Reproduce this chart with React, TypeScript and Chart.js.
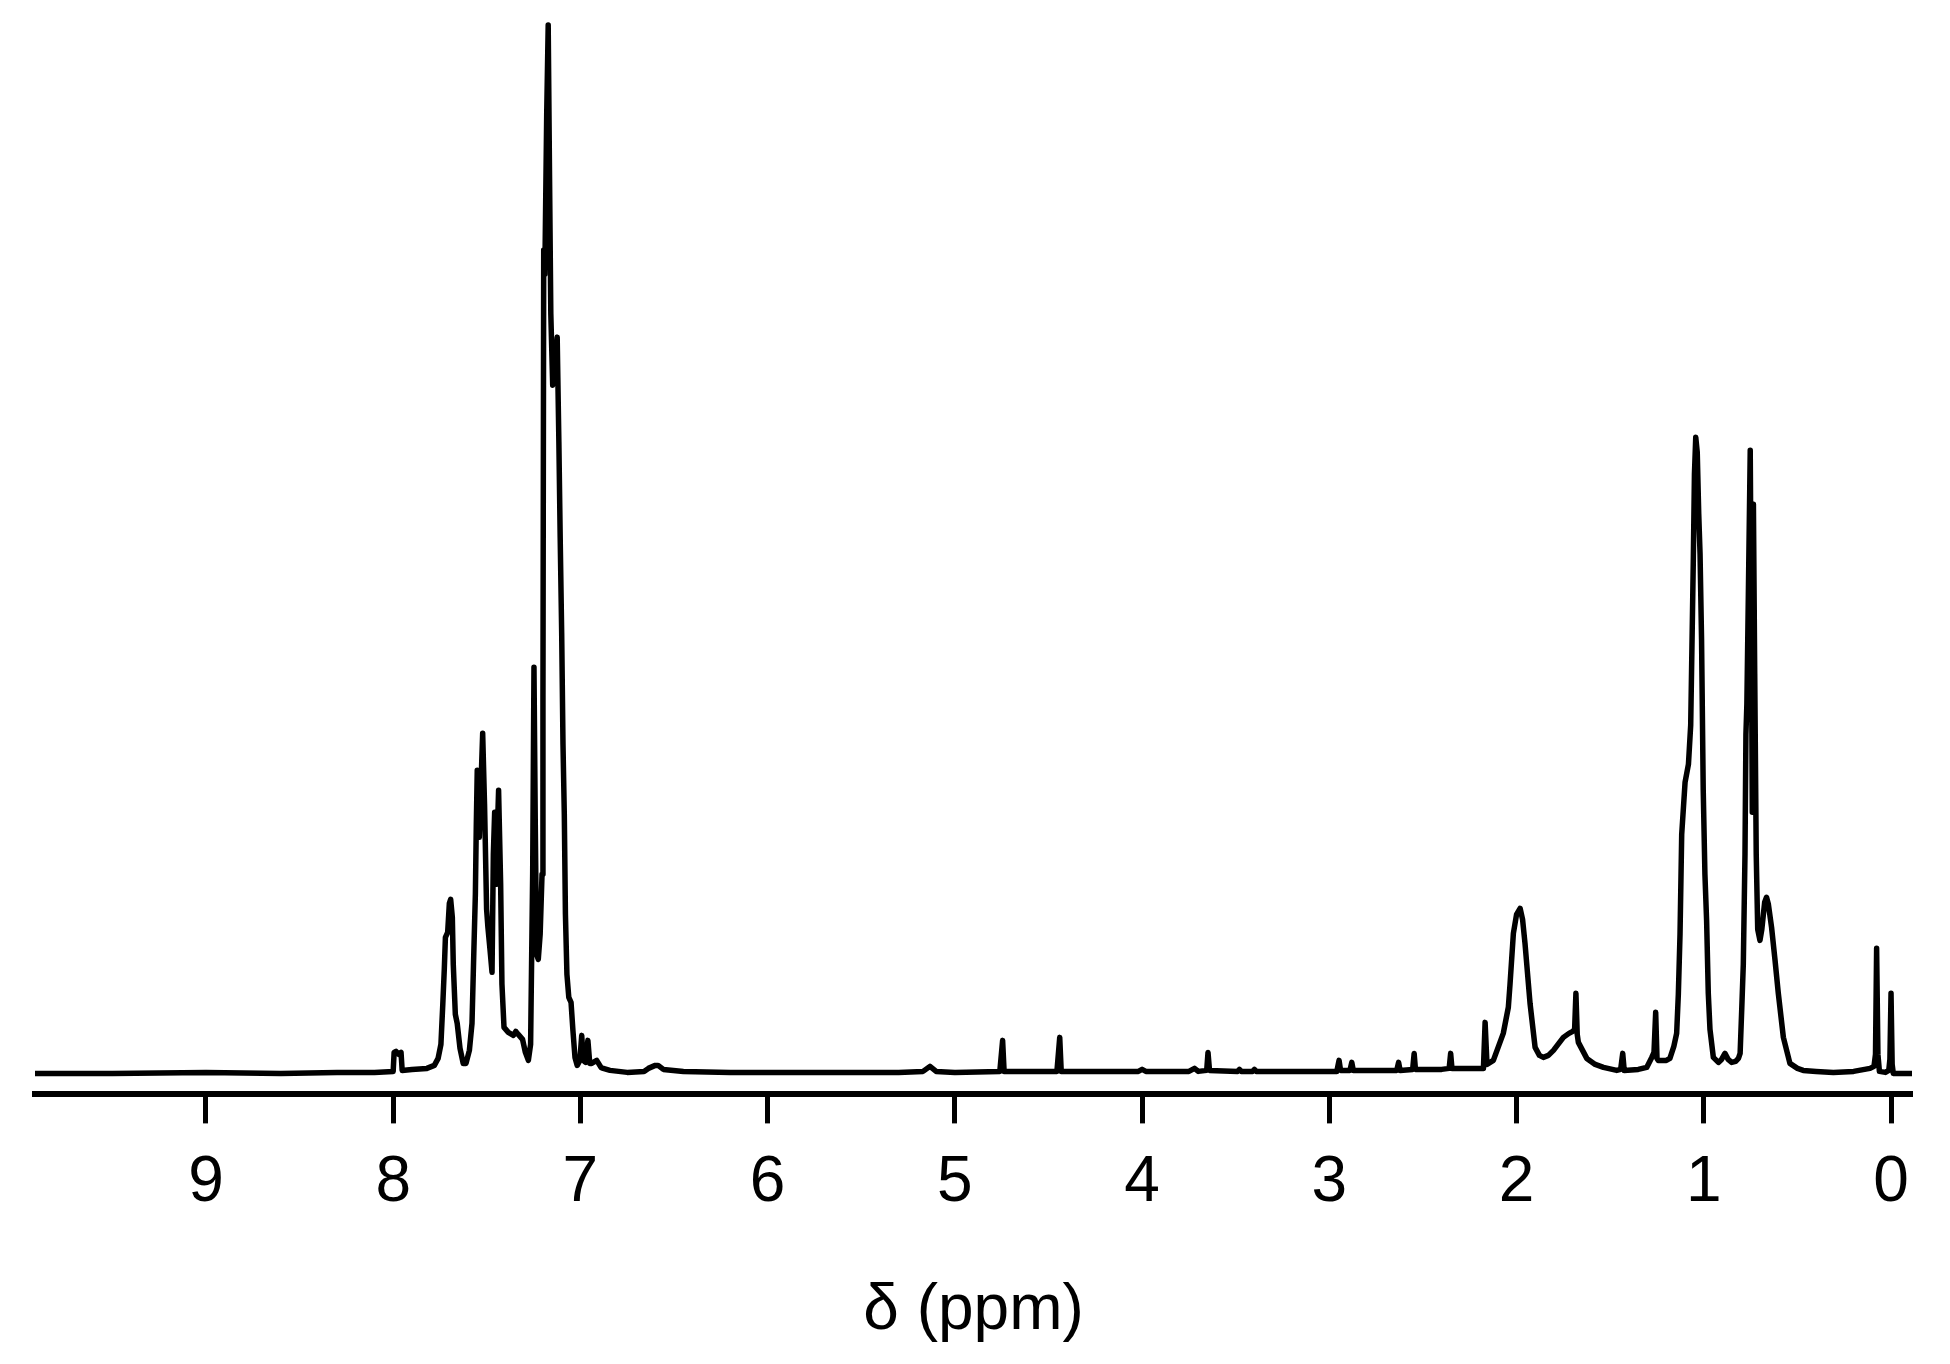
import React, { useEffect, useRef } from "react";
import { Chart, registerables } from "chart.js";

Chart.register(...registerables);

// Chemical shift (ppm), high to low
const ppmValues: number[] = [
  9.913, 9.5, 9.0, 8.6, 8.3, 8.1, 8.0, 7.995, 7.985, 7.97, 7.958, 7.952, 7.9, 7.82, 7.78, 7.76, 7.745, 7.735,
  7.727, 7.721, 7.709, 7.7, 7.693, 7.684, 7.679, 7.668, 7.658, 7.643, 7.626, 7.611, 7.593, 7.579, 7.569,
  7.561, 7.556, 7.551, 7.546, 7.54, 7.531, 7.522, 7.512, 7.501, 7.494, 7.483, 7.472, 7.465, 7.458, 7.451,
  7.444, 7.437, 7.426, 7.419, 7.408, 7.385, 7.358, 7.345, 7.332, 7.309, 7.294, 7.278, 7.266, 7.255, 7.248,
  7.241, 7.234, 7.225, 7.215, 7.205, 7.2, 7.196, 7.19, 7.18, 7.172, 7.165, 7.158, 7.148, 7.138, 7.124,
  7.115, 7.108, 7.1, 7.093, 7.086, 7.08, 7.072, 7.062, 7.05, 7.04, 7.029, 7.017, 7.003, 6.993, 6.985,
  6.972, 6.96, 6.95, 6.94, 6.913, 6.89, 6.878, 6.842, 6.75, 6.66, 6.637, 6.6, 6.585, 6.557, 6.45, 6.2,
  5.9, 5.6, 5.3, 5.17, 5.133, 5.1, 5.0, 4.76, 4.745, 4.737, 4.6, 4.455, 4.44, 4.432, 4.2, 4.02, 4.0,
  3.98, 3.75, 3.72, 3.7, 3.655, 3.648, 3.64, 3.49, 3.48, 3.47, 3.41, 3.4, 3.39, 3.2, 2.96, 2.948, 2.94,
  2.89, 2.88, 2.872, 2.7, 2.64, 2.63, 2.622, 2.555, 2.547, 2.54, 2.4, 2.36, 2.352, 2.345, 2.25, 2.177,
  2.168, 2.158, 2.124, 2.071, 2.044, 2.035, 2.017, 2.0, 1.981, 1.968, 1.955, 1.928, 1.901, 1.878, 1.857,
  1.83, 1.803, 1.75, 1.72, 1.7, 1.69, 1.683, 1.676, 1.67, 1.625, 1.58, 1.536, 1.465, 1.444, 1.433, 1.425,
  1.35, 1.305, 1.278, 1.266, 1.257, 1.25, 1.243, 1.2, 1.181, 1.16, 1.145, 1.136, 1.127, 1.118, 1.1,
  1.082, 1.07, 1.063, 1.056, 1.05, 1.043, 1.035, 1.027, 1.02, 1.012, 1.003, 0.994, 0.985, 0.976, 0.967,
  0.949, 0.922, 0.905, 0.887, 0.87, 0.851, 0.83, 0.815, 0.806, 0.797, 0.789, 0.78, 0.775, 0.77, 0.762,
  0.752, 0.746, 0.741, 0.735, 0.728, 0.72, 0.712, 0.7, 0.69, 0.675, 0.665, 0.655, 0.638, 0.62, 0.602,
  0.575, 0.54, 0.5, 0.469, 0.4, 0.308, 0.2, 0.112, 0.091, 0.083, 0.077, 0.07, 0.062, 0.03, 0.012, 0.006,
  0.0, -0.006, -0.012, -0.05, -0.112,
];

// Signal intensity (arbitrary units), one per ppm value above
const intensities: number[] = [
  1, 1, 2, 1, 2, 2, 3, 22, 23, 20, 22, 4, 5, 6, 9, 16, 30, 70,
  105, 137, 142, 171, 175, 157, 110, 60, 51, 26, 11, 11, 24, 51, 124,
  180, 250, 304, 270, 237, 290, 341, 270, 165, 147, 125, 102, 220, 262, 190,
  240, 284, 190, 90, 47, 42, 39, 43, 40, 35, 22, 14, 30, 200, 407,
  250, 120, 115, 140, 200, 380, 824, 800, 960, 1049, 900, 760, 689, 700, 737,
  632, 537, 441, 330, 260, 160, 100, 77, 72, 44, 17, 9, 14, 39, 14,
  12, 34, 11, 11, 14, 7, 6, 4, 2, 3, 6, 9, 9, 5, 3, 2,
  2, 2, 2, 3, 8, 3, 2, 3, 34, 3, 3, 3, 37, 3, 3, 3, 5,
  3, 3, 6, 3, 4, 22, 4, 3, 5, 3, 3, 5, 3, 3, 3, 14, 4,
  4, 12, 4, 4, 4, 12, 4, 5, 21, 5, 5, 6, 21, 6, 6, 6,
  52, 10, 14, 41, 67, 90, 141, 160, 166, 155, 131, 71, 27, 19, 17,
  19, 24, 37, 41, 43, 45, 81, 40, 32, 16, 10, 7, 4, 5, 21, 4,
  5, 7, 17, 22, 62, 16, 14, 14, 16, 28, 41, 80, 140, 240, 292,
  310, 349, 431, 514, 600, 637, 622, 560, 520, 435, 284, 200, 154, 81, 45,
  17, 12, 15, 21, 15, 12, 13, 16, 21, 67, 110, 220, 340, 370, 480,
  624, 450, 262, 570, 400, 220, 145, 134, 145, 172, 177, 170, 147, 115, 81,
  37, 11, 6, 4, 3, 2, 3, 6, 8, 20, 126, 20, 3, 2, 4, 15,
  81, 10, 1, 1, 1,
];

const tickValues: number[] = [9, 8, 7, 6, 5, 4, 3, 2, 1, 0];
const axisTitle = "δ (ppm)";

const FONT = "'Liberation Sans', Arial, Helvetica, sans-serif";

export default function App() {
  const canvasRef = useRef<HTMLCanvasElement | null>(null);

  useEffect(() => {
    const canvas = canvasRef.current;
    if (!canvas) return;
    const points = ppmValues.map((p, i) => ({ x: p, y: intensities[i] }));
    const chart = new Chart(canvas, {
      type: "line",
      data: {
        datasets: [
          {
            data: points,
            borderColor: "#000000",
            borderWidth: 5.5,
            pointRadius: 0,
            tension: 0,
            fill: false,
            borderJoinStyle: "round",
            borderCapStyle: "round",
          },
        ],
      },
      options: {
        responsive: false,
        animation: false,
        devicePixelRatio: 1,
        layout: { padding: { left: 35, right: 38, top: 0, bottom: 0 } },
        plugins: {
          legend: { display: false },
          tooltip: { enabled: false },
        },
        scales: {
          x: {
            type: "linear",
            reverse: true,
            min: -0.112,
            max: 9.913,
            afterBuildTicks: (scale: any) => {
              scale.ticks = tickValues.map((v) => ({ value: v }));
            },
            border: { display: true, color: "#000000", width: 6 },
            grid: {
              display: true,
              drawOnChartArea: false,
              drawTicks: true,
              tickLength: 29,
              tickWidth: 5,
              tickColor: "#000000",
              color: "#000000",
            },
            ticks: {
              color: "#000000",
              padding: 22,
              maxRotation: 0,
              autoSkip: false,
              font: { family: FONT, size: 64 },
              callback: (v: any) => String(v),
            },
            title: {
              display: true,
              text: axisTitle,
              color: "#000000",
              font: { family: FONT, size: 64 },
              padding: { top: 29, bottom: 14 },
            },
          },
          y: {
            display: false,
            min: -20,
            max: 1074,
          },
        },
      },
    } as any);
    return () => chart.destroy();
  }, []);

  return (
    <div
      style={{
        position: "absolute",
        left: 0,
        top: 0,
        width: 1950,
        height: 1364,
        background: "#ffffff",
      }}
    >
      <canvas
        ref={canvasRef}
        width={1950}
        height={1364}
        style={{ display: "block", width: 1950, height: 1364 }}
      />
    </div>
  );
}
